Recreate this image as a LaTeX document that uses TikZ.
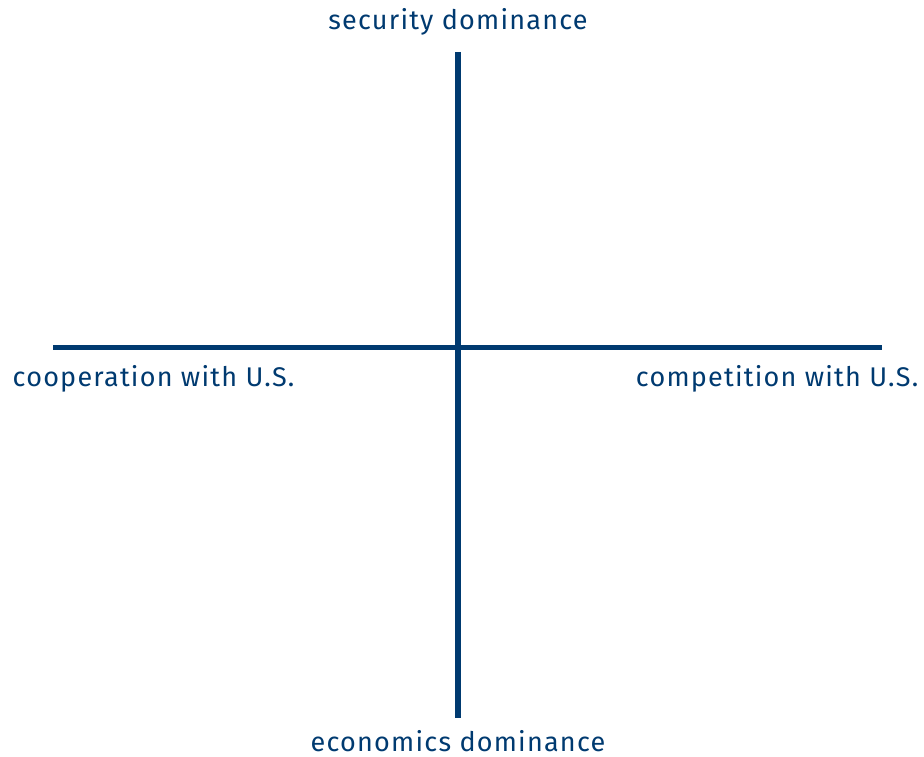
\documentclass[tikz,border=0pt]{standalone}
\usepackage{fontspec}
\setmainfont{Fira Sans}[LetterSpace=4.5]
\definecolor{axisblue}{RGB}{0,58,112}
\begin{document}
\begin{tikzpicture}[x=1pt,y=-1pt,
  axis/.style={draw=axisblue,line width=5.5pt},
  label/.style={text=axisblue,font=\fontsize{27}{31}\selectfont,inner sep=0pt,text depth=0pt}]
\useasboundingbox (0,0) rectangle (924,757);
% quadrant axes
\coordinate (top) at (458,52);
\coordinate (bottom) at (458,718);
\coordinate (left) at (53,347.5);
\coordinate (right) at (882,347.5);
\draw[axis] (left) -- (right);
\draw[axis] (top) -- (bottom);
% axis labels
\node[label,anchor=base] (sec) at (458,30) {security dominance};
\node[label,anchor=base] (eco) at (458,751.5) {economics dominance};
\node[label,anchor=base west] (coop) at (12.5,386) {cooperation with U.S.};
\node[label,anchor=base east] (comp) at (918.5,386) {competition with U.S.};
\end{tikzpicture}
\end{document}
